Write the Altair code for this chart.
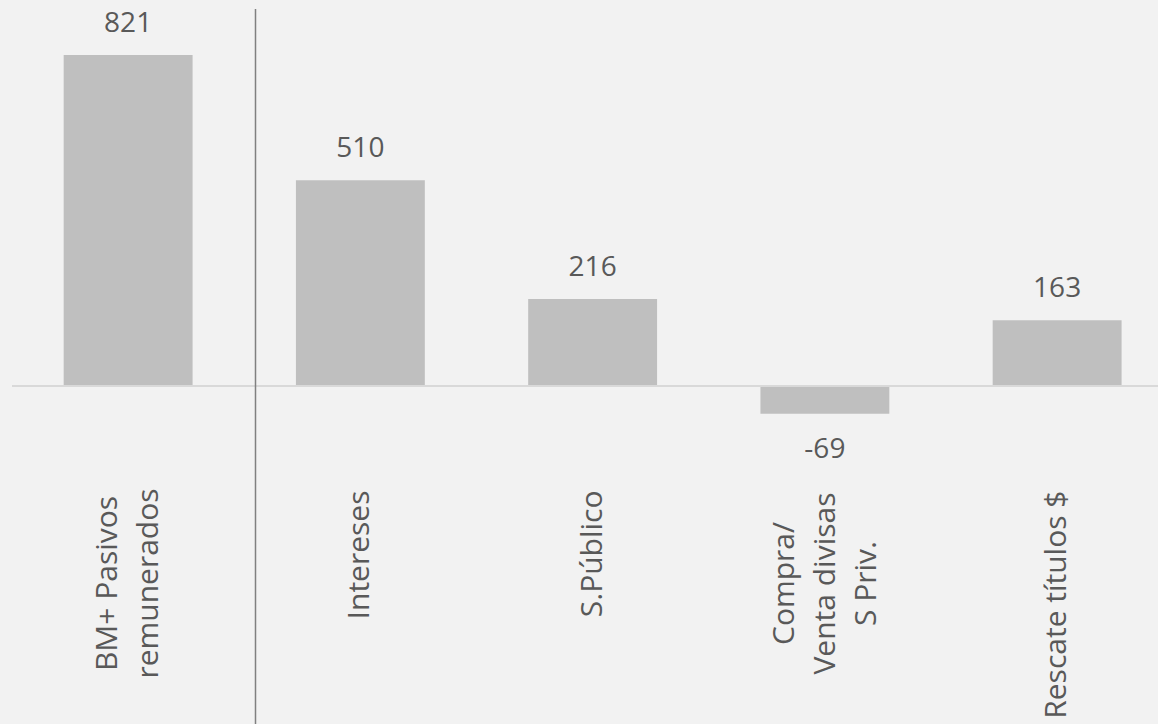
import altair as alt
import pandas as pd

categories = ["BM+ Pasivos\nremunerados", "Intereses", "S.Público",
              "Compra/\nVenta divisas\nS Priv.", "Rescate títulos $"]
values = [821, 510, 216, -69, 163]
value_labels = ["821", "510", "216", "-69", "163"]

df = pd.DataFrame({"cat": categories, "val": values, "lbl": value_labels})

W, H = 1146, 451
TXT = "#595959"
FONT = "Open Sans"

xscale = alt.Scale(domain=categories, range=[0, 1161.25], paddingInner=0.445, paddingOuter=0.2225)
yscale = alt.Scale(domain=[-183.5, 935], nice=False, zero=False)

MULTI = "indexof(datum.value, '\\n') >= 0"
NLINES = "length(split(datum.value, '\\n'))"

xenc = alt.X("cat:N", scale=xscale, sort=categories, title=None,
             axis=alt.Axis(
                 labelAngle=270,
                 labelExpr="split(datum.label, '\\n')",
                 labelAlign={"condition": {"test": MULTI, "value": "center"}, "value": "right"},
                 labelPadding={"condition": {"test": MULTI, "value": 123}, "value": 30},
                 labelOffset={"condition": [
                     {"test": NLINES + " == 2", "value": -20},
                     {"test": NLINES + " == 3", "value": -40}], "value": 0},
                 labelBaseline="middle",
                 labelLineHeight=41,
                 labelFont=FONT, labelFontSize=30, labelColor=TXT,
                 labelLimit=0, labelOverlap=False, labelFlush=False,
                 domain=False, ticks=False, grid=False))

base = alt.Chart(df)

bars = base.mark_bar(color="#BFBFBF").encode(
    x=xenc,
    y=alt.Y("val:Q", scale=yscale, axis=None),
)

pos_lbl = base.transform_filter("datum.val >= 0").mark_text(
    font=FONT, fontSize=28, color=TXT, baseline="alphabetic", dy=-23
).encode(x=alt.X("cat:N", scale=xscale, sort=categories), y=alt.Y("val:Q", scale=yscale), text="lbl:N")

neg_lbl = base.transform_filter("datum.val < 0").mark_text(
    font=FONT, fontSize=28, color=TXT, baseline="alphabetic", dy=44
).encode(x=alt.X("cat:N", scale=xscale, sort=categories), y=alt.Y("val:Q", scale=yscale), text="lbl:N")

zero = alt.Chart(pd.DataFrame({"z": [0]})).mark_rule(color="#D9D9D9", strokeWidth=2).encode(
    y=alt.Y("z:Q", scale=yscale), x=alt.value(0), x2=alt.value(W))

divider = alt.Chart(pd.DataFrame({"z": [0]})).mark_rule(color="#808080", strokeWidth=1.5).encode(
    x=alt.value(243.5), y=alt.value(0), y2=alt.value(715))

chart = alt.layer(bars, zero, divider, pos_lbl, neg_lbl).properties(
    width=W, height=H,
    autosize=alt.AutoSizeParams(type="none"),
    padding={"left": 12, "top": 9, "right": 0, "bottom": 264},
    background="#F2F2F2",
).configure_view(stroke=None)

chart.save("out.html", embed_options={"renderer": "svg", "actions": False})
